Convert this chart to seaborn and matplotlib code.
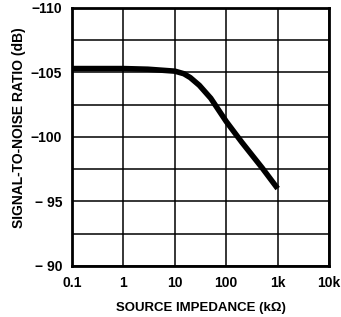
import numpy as np
import pandas as pd
import matplotlib
matplotlib.use("Agg")
import matplotlib.pyplot as plt
import seaborn as sns

# values
impedance_k = [0.1, 1, 3, 10, 15, 20, 30, 50, 100, 200, 500, 1000]
snr_db = [-105.3, -105.3, -105.25, -105.1, -104.9, -104.6, -104.0, -103.0, -101.2, -99.6, -97.6, -96.0]
x_ticks = [0.1, 1, 10, 100, 1000, 10000]
x_labels = ["0.1", "1", "10", "100", "1k", "10k"]
y_ticks = [-110, -105, -100, -95, -90]
y_labels = ["\u2212110", "\u2212105", "\u2212100", "\u2212 95", "\u2212 90"]

df = pd.DataFrame({"impedance": impedance_k, "snr": snr_db})

sns.set_style("white")
plt.rcParams["font.family"] = ["Liberation Sans", "DejaVu Sans"]
plt.rcParams["font.weight"] = "bold"
plt.rcParams["text.color"] = "black"
plt.rcParams["axes.labelcolor"] = "black"
plt.rcParams["xtick.color"] = "black"
plt.rcParams["ytick.color"] = "black"

fig = plt.figure(figsize=(3.41, 3.17), dpi=100)
ax = fig.add_axes([0.211, 0.161, 0.754, 0.814])

sns.lineplot(data=df, x="impedance", y="snr", ax=ax, color="black",
             linewidth=4, solid_capstyle="butt")

ax.set_xscale("log")
ax.set_xlim(0.1, 10000)
ax.set_ylim(-90, -110)
ax.set_xticks(x_ticks)
ax.set_xticklabels(x_labels)
ax.xaxis.set_minor_locator(matplotlib.ticker.NullLocator())
ax.set_yticks(y_ticks)
ax.set_yticklabels(y_labels)
ax.set_yticks(np.arange(-110, -89, 2.5), minor=True)

ax.grid(True, which="both", color="black", linewidth=1.1)
ax.tick_params(which="both", length=0, labelsize=10, pad=7)
for lab in ax.get_xticklabels() + ax.get_yticklabels():
    lab.set_fontweight("bold")
for sp in ax.spines.values():
    sp.set_color("black")
    sp.set_linewidth(2)

ax.set_xlabel("SOURCE IMPEDANCE (k\u03a9)", fontsize=9.5, fontweight="bold", labelpad=9)
ax.set_ylabel("SIGNAL-TO-NOISE RATIO (dB)", fontsize=10, fontweight="bold")
ax.yaxis.set_label_coords(-0.18, 0.535)

fig.savefig("out.png", dpi=100)
